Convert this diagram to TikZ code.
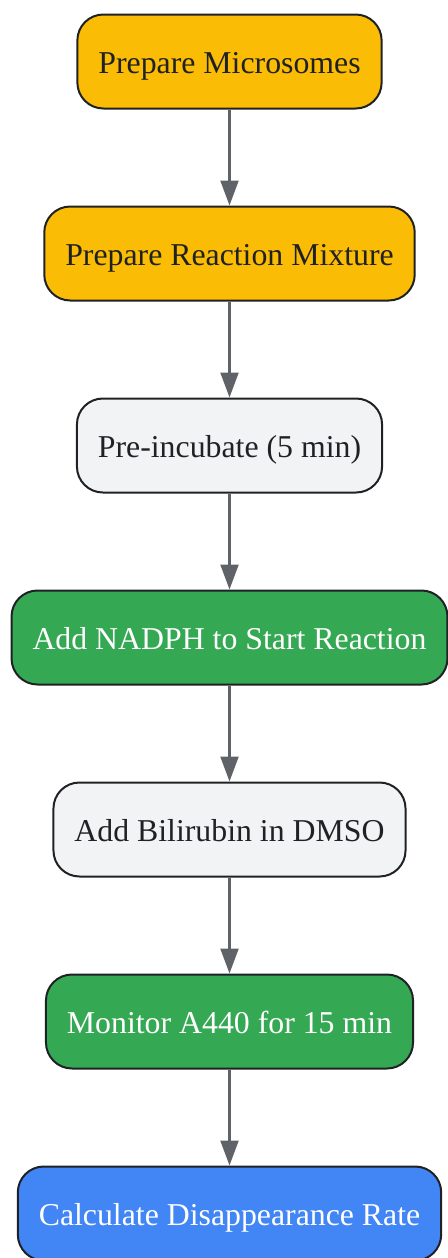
\documentclass[tikz,border=0pt]{standalone}
\usepackage{fontspec}
\setmainfont{Liberation Serif}
\usetikzlibrary{arrows.meta}
\definecolor{yel}{HTML}{FBBC05}
\definecolor{grn}{HTML}{34A853}
\definecolor{blu}{HTML}{4285F4}
\definecolor{lgr}{HTML}{F1F3F4}
\definecolor{bord}{HTML}{202124}
\definecolor{arr}{HTML}{5F6368}
\tikzset{
  box/.style={draw=bord, line width=2pt, rounded corners=26pt, minimum height=94pt,
    inner xsep=21pt, text height=23pt, text depth=0pt,
    font=\fontsize{31.8}{38}\selectfont, text=bord},
  darkbox/.style={box, text=white},
  conn/.style={draw=arr, line width=2.2pt, -{Triangle[length=25pt,width=18pt]}}
}
\begin{document}
\begin{tikzpicture}[x=1pt,y=1pt]
\useasboundingbox (0,0) rectangle (447,-1258);
\node[box, fill=yel] (n1) at (229.5,-61.5) {Prepare Microsomes};
\node[box, fill=yel] (n2) at (229.5,-253.5) {Prepare Reaction Mixture};
\node[box, fill=lgr] (n3) at (229.5,-445.5) {Pre-incubate (5 min)};
\node[darkbox, fill=grn] (n4) at (229.5,-637.5) {Add NADPH to Start Reaction};
\node[box, fill=lgr] (n5) at (229.5,-829.5) {Add Bilirubin in DMSO};
\node[darkbox, fill=grn] (n6) at (229.5,-1021.5) {Monitor A440 for 15 min};
\node[darkbox, fill=blu] (n7) at (229.5,-1213.5) {Calculate Disappearance Rate};
\draw[conn] (n1) -- (n2);
\draw[conn] (n2) -- (n3);
\draw[conn] (n3) -- (n4);
\draw[conn] (n4) -- (n5);
\draw[conn] (n5) -- (n6);
\draw[conn] (n6) -- (n7);
\end{tikzpicture}
\end{document}
